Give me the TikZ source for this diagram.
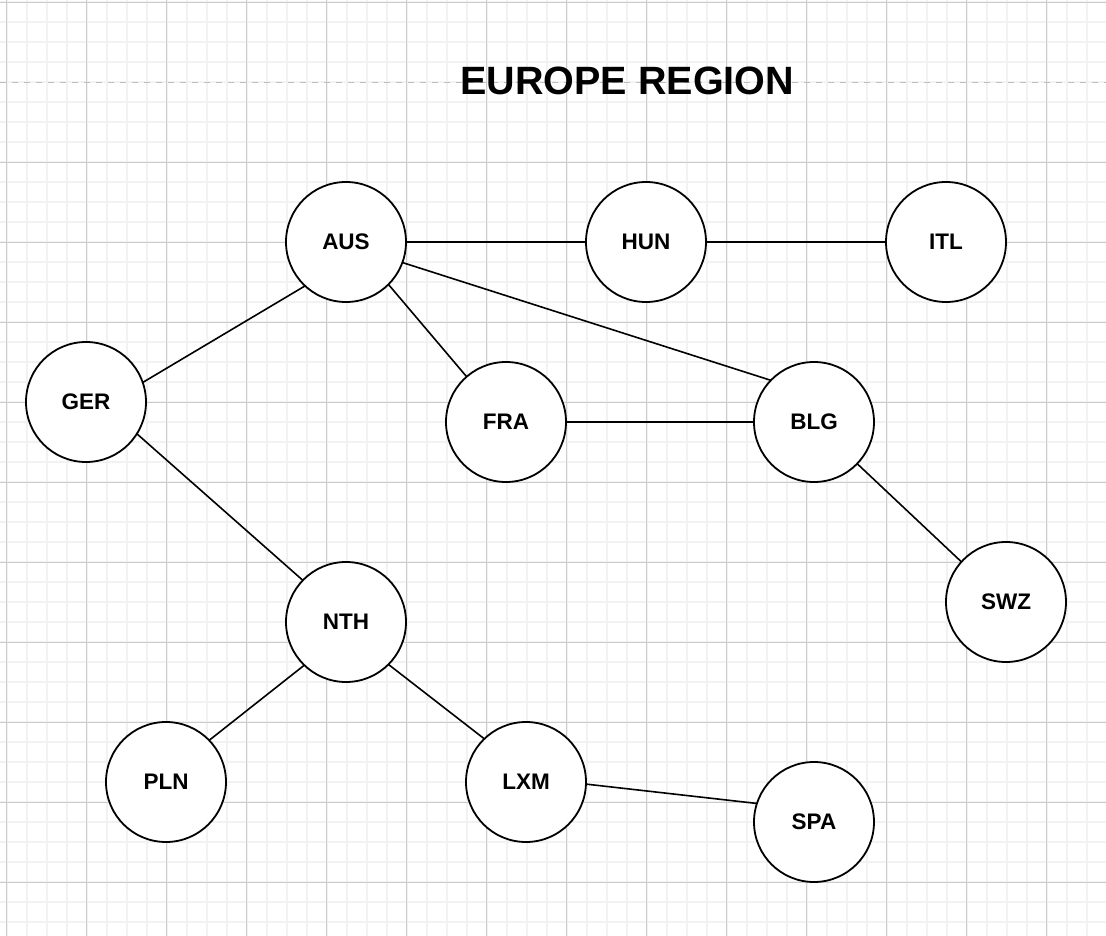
\documentclass[tikz,border=0pt]{standalone}
\usepackage{fontspec}
\setmainfont{Liberation Sans}

\tikzset{
	country/.style={circle, draw, line width=1.8pt, fill=white, minimum size=120pt, inner sep=0pt, outer sep=0pt, font=\fontsize{22.5}{27}\selectfont\bfseries},
	link/.style={line width=1.6pt},
}

\begin{document}
\begin{tikzpicture}[x=1pt,y=-1pt]
\useasboundingbox (0,0) rectangle (1106,936);
\fill[white] (0,0) rectangle (1106,936);
% grid
\foreach \i in {0,...,55}{
	\draw[line width=2pt, black!5] (6.7+20*\i,0)--(6.7+20*\i,936);
}
\foreach \j in {0,...,46}{
	\draw[line width=2pt, black!5] (0,2.3+20*\j)--(1106,2.3+20*\j);
}
\foreach \i in {0,...,13}{
	\draw[line width=1pt, black!20] (6.7+80*\i,0)--(6.7+80*\i,936);
}
\foreach \j in {0,2,3,...,11}{
	\draw[line width=1pt, black!20] (0,2.3+80*\j)--(1106,2.3+80*\j);
}
\draw[line width=1.5pt, black!25, dash pattern=on 6pt off 6pt] (0,82.5)--(1106,82.5);

\node[font=\fontsize{39.5}{47}\selectfont\bfseries] (title) at (627.3,81.2) {EUROPE REGION};

\node[country] (aus) at (346,242) {AUS};
\node[country] (hun) at (646,242) {HUN};
\node[country] (itl) at (946,242) {ITL};
\node[country] (ger) at (86,402) {GER};
\node[country] (fra) at (506,422) {FRA};
\node[country] (blg) at (814,422) {BLG};
\node[country] (swz) at (1006,602) {SWZ};
\node[country] (nth) at (346,622) {NTH};
\node[country] (pln) at (166,782) {PLN};
\node[country] (lxm) at (526,782) {LXM};
\node[country] (spa) at (814,822) {SPA};

\draw[link] (aus.east)--(hun.west);
\draw[link] (hun.east)--(itl.west);
\draw[link] (aus.227)--(ger.19);
\draw[link] (aus.315)--(fra.131);
\draw[link] (aus.340)--(blg.136);
\draw[link] (fra.east)--(blg.west);
\draw[link] (blg.316)--(swz.138);
\draw[link] (ger.328)--(nth.136);
\draw[link] (nth.226)--(pln.44);
\draw[link] (nth.315)--(lxm.134);
\draw[link] (lxm.358)--(spa.162);

\end{tikzpicture}
\end{document}
